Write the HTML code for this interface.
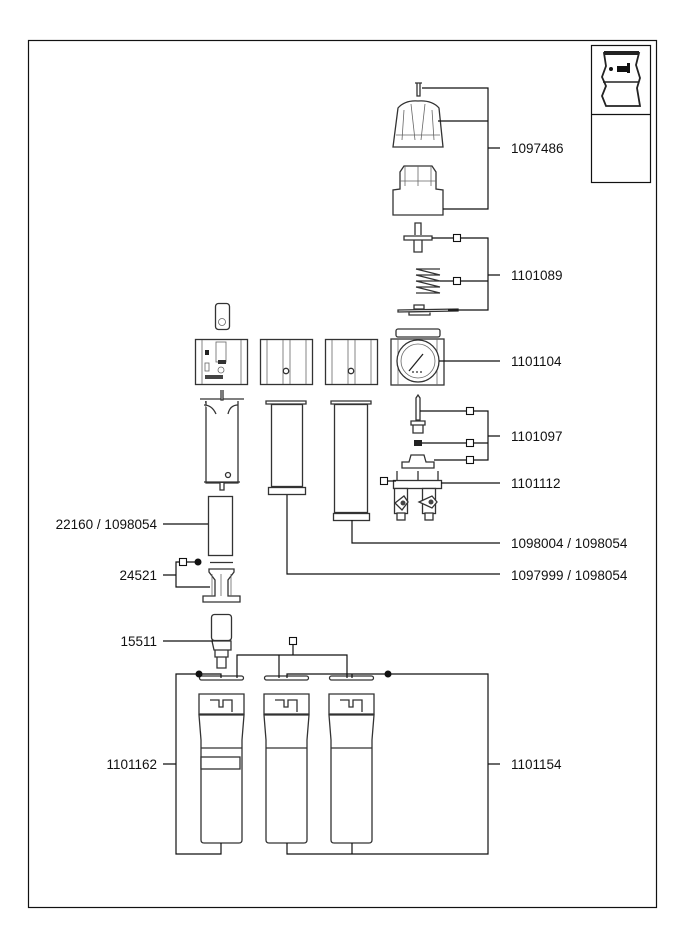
<!DOCTYPE html>
<html><head><meta charset="utf-8"><style>
html,body{margin:0;padding:0;background:#fff;}
svg{display:block;}
text{font-family:"Liberation Sans",sans-serif;font-size:13.5px;fill:#111;}
.p{fill:#fff;stroke:#333;stroke-width:1.3;}
.l{fill:none;stroke:#111;stroke-width:1.2;}
.t{fill:none;stroke:#666;stroke-width:0.8;}
.b{fill:#fff;stroke:#111;stroke-width:1.1;}
</style></head><body>
<svg width="680" height="935" viewBox="0 0 680 935" xmlns="http://www.w3.org/2000/svg">
<rect x="28.5" y="40.5" width="628" height="867" fill="none" stroke="#111" stroke-width="1.2"/>
<!-- legend -->
<rect x="591.5" y="45.5" width="59" height="137" fill="none" stroke="#111" stroke-width="1.2"/>
<line x1="591" y1="114.5" x2="651" y2="114.5" stroke="#111" stroke-width="1.2"/>
<path d="M604 53 L639 53 L636 65 L640 78 L637 88 L640 106 L606 106 L602 96 L606 86 L602 77 L606 66 Z" fill="#fff" stroke="#222" stroke-width="1.8"/>
<rect x="604" y="51" width="35" height="4" fill="#222"/>
<line x1="603" y1="82" x2="639" y2="82" stroke="#222" stroke-width="1.5"/>
<circle cx="611" cy="69" r="2" fill="#111"/>
<rect x="617" y="66" width="11" height="6" fill="#111"/><rect x="627" y="63" width="3" height="10" fill="#111"/>

<!-- top: screw, knob, nut -->
<path d="M415 83 H422 M417 83 V96 H420 V83" class="p"/>
<path d="M398 108 Q405 100 418 101 Q432 100 439 108 L443 147 L393 147 Z" class="p"/>
<path d="M411 104 L415 140 M425 104 L421 140 M404 110 L402 140 M432 110 L434 140 M396 135 H440" class="t"/>
<path d="M404 166 L432 166 L436 172 L436 189 L443 190 L443 215 L393 215 L393 190 L400 189 L400 172 Z" class="p"/>
<path d="M405 166 V186 M418 166 V186 M431 166 V186 M400 181 H436" class="t"/>
<!-- stem -->
<path d="M415 235 V223 H421 V235 M404 236 H432 V240 H404 Z M414 240 V252 H422 V240" class="p"/>
<!-- spring -->
<path d="M416 269 H440 M416 275 H440 M416 281 H440 M416 287 H440 M416 293 H440 M416 269 L440 275 M416 275 L440 281 M416 281 L440 287 M416 287 L440 293" class="p"/>
<!-- disc -->
<path d="M398 310 L458 309 L458 311 L398 312 Z M414 305 H424 V309 H414 Z M409 312 H430 V315 H409 Z" class="p"/>
<!-- gauge -->
<rect x="396" y="329" width="44" height="8" rx="2" class="p"/>
<rect x="391" y="339" width="53" height="46" class="p"/>
<line x1="398" y1="339" x2="398" y2="385" class="t"/><line x1="437" y1="339" x2="437" y2="385" class="t"/>
<circle cx="418" cy="361" r="21" class="p"/><circle cx="418" cy="361" r="17" class="t"/>
<line x1="409" y1="371" x2="423" y2="354" stroke="#222" stroke-width="1.3"/>
<circle cx="413" cy="372" r="0.9" fill="#222"/><circle cx="417" cy="372" r="0.9" fill="#222"/><circle cx="421" cy="372" r="0.9" fill="#222"/>

<!-- heads -->
<rect x="215.5" y="303.5" width="14" height="26" rx="3" class="p"/><circle cx="222" cy="322" r="3.5" class="t"/>
<rect x="195.5" y="339.5" width="52" height="45" class="p"/>
<path d="M202 340 V384 M241 340 V384" class="t"/>
<rect x="216" y="342" width="10" height="20" class="t"/><rect x="218" y="360" width="8" height="4" fill="#333"/>
<rect x="205" y="350" width="4" height="5" fill="#222"/><circle cx="221" cy="370" r="3" class="t"/>
<rect x="205" y="375" width="18" height="4" fill="#444"/><rect x="205" y="363" width="4" height="8" class="t"/>
<rect x="260.5" y="339.5" width="52" height="45" class="p"/>
<path d="M267 340 V384 M306 340 V384 M283 340 V384 M290 340 V384" class="t"/><circle cx="286" cy="371" r="2.7" class="p"/>
<rect x="325.5" y="339.5" width="52" height="45" class="p"/>
<path d="M332 340 V384 M371 340 V384 M348 340 V384 M355 340 V384" class="t"/><circle cx="351" cy="371" r="2.7" class="p"/>

<!-- housings -->
<path d="M200 399 H244 M205 402 H238" class="p"/>
<path d="M206 401 V483 H238 V401" class="p"/>
<path d="M204 482 H240 M220 483 V490 H224 V483 M221 390 V400 H223 V390" class="p"/>
<path d="M204 405 Q212 405 216 414 M238 405 Q230 405 228 414" class="p" stroke-width="2"/>
<circle cx="228" cy="475" r="2.5" class="p"/>
<path d="M266 401 H306 V404 H266 Z" class="p"/>
<rect x="271.5" y="404.5" width="31" height="82" class="p"/>
<rect x="268.5" y="487.5" width="37" height="7" class="p"/>
<path d="M331 401 H371 V404 H331 Z" class="p"/>
<rect x="334.5" y="404.5" width="33" height="108" class="p"/>
<rect x="333.5" y="513.5" width="36" height="7" class="p"/>
<!-- filter 22160 -->
<rect x="208.5" y="496.5" width="24" height="59" class="p"/>
<!-- 24521 -->
<line x1="210" y1="562.5" x2="233" y2="562.5" stroke="#333" stroke-width="1.2"/>
<path d="M209 569 H234 V572 L228 580 V596 H240 V602 H203 V596 H215 V580 L209 572 Z" class="p"/>
<path d="M212 574 V596 M231 574 V596 M221 574 V596" class="t"/>
<!-- 15511 -->
<rect x="211.5" y="614.5" width="20" height="26" rx="3" class="p"/>
<path d="M212 641 H231 V650 H214 Z M215 650 H228 V657 H215 Z M217 657 H226 V668 H217 Z" class="p"/>

<!-- valve 1101097 -->
<path d="M416 398 L418 395 L420 398 V420 H416 Z" class="p"/>
<path d="M411 421 H425 V425 H411 Z M413 425 H423 V433 H413 Z" class="p"/>
<rect x="414" y="440" width="8" height="6" fill="#222"/>
<path d="M411 455 H424 L426 462 H434 V468 H402 V462 H409 Z" class="p"/>
<!-- valve 1101112 -->
<path d="M397 471 V480 M418 471 V480 M438 471 V480" class="p"/>
<rect x="393.5" y="480.5" width="48" height="8" class="p"/>
<rect x="394.5" y="488.5" width="13" height="25" class="p"/><rect x="422.5" y="488.5" width="13" height="25" class="p"/>
<rect x="397" y="513" width="8" height="7" class="p"/><rect x="425" y="513" width="8" height="7" class="p"/>
<path d="M395 503 L404 496 L408 502 L402 510 Z" class="p"/><path d="M419 502 L432 496 L437 502 L432 508 Z" class="p"/>
<circle cx="403" cy="503" r="2.5" fill="#444"/><circle cx="431" cy="502" r="2.5" fill="#444"/>

<!-- lower cartridges -->
<g>
<rect x="199.5" y="676" width="44" height="4" rx="2" class="p"/>
<path d="M199 694 H244 V714 H199 Z M210 700 H219 V707 H223 V700 H232 V712" class="p"/>
<path d="M199 715 H244 L242 740 V840 Q242 843 239 843 H204 Q201 843 201 840 V740 Z M201 748 H242" class="p"/>
<rect x="201" y="757" width="39" height="12" class="p"/>
</g>
<g transform="translate(65,0)">
<rect x="199.5" y="676" width="44" height="4" rx="2" class="p"/>
<path d="M199 694 H244 V714 H199 Z M210 700 H219 V707 H223 V700 H232 V712" class="p"/>
<path d="M199 715 H244 L242 740 V840 Q242 843 239 843 H204 Q201 843 201 840 V740 Z M201 748 H242" class="p"/>
</g>
<g transform="translate(130,0)">
<rect x="199.5" y="676" width="44" height="4" rx="2" class="p"/>
<path d="M199 694 H244 V714 H199 Z M210 700 H219 V707 H223 V700 H232 V712" class="p"/>
<path d="M199 715 H244 L242 740 V840 Q242 843 239 843 H204 Q201 843 201 840 V740 Z M201 748 H242" class="p"/>
</g>

<!-- leader lines -->
<path class="l" d="M422 88 H488 V209 H443 M438 121 H488 M488 148 H500"/>
<text x="511" y="153">1097486</text>
<path class="l" d="M432 238 H488 V310 H448 M440 281 H488 M488 275 H500"/>
<rect x="453.5" y="234.5" width="7" height="7" class="b"/><rect x="453.5" y="277.5" width="7" height="7" class="b"/>
<text x="511" y="280">1101089</text>
<path class="l" d="M439 361 H500"/>
<text x="511" y="366">1101104</text>
<path class="l" d="M420 411 H488 V460 H434 M422 443 H488 M488 436 H500"/>
<rect x="466.5" y="407.5" width="7" height="7" class="b"/><rect x="466.5" y="439.5" width="7" height="7" class="b"/><rect x="466.5" y="456.5" width="7" height="7" class="b"/>
<text x="511" y="441">1101097</text>
<path class="l" d="M387 481 H396 M441 483 H500"/>
<rect x="380.5" y="477.5" width="7" height="7" class="b"/>
<text x="511" y="488">1101112</text>
<path class="l" d="M352 520 V543 H500"/>
<text x="511" y="548">1098004 / 1098054</text>
<path class="l" d="M287 495 V574 H500"/>
<text x="511" y="580">1097999 / 1098054</text>
<path class="l" d="M163 524 H208"/>
<text x="157" y="529" text-anchor="end">22160 / 1098054</text>
<path class="l" d="M163 575 H176 M183 562 H176 V587 H210 M186 562 H198"/>
<rect x="179.5" y="558.5" width="7" height="7" class="b"/>
<circle cx="198" cy="562" r="3.5" fill="#111"/>
<text x="157" y="580" text-anchor="end">24521</text>
<path class="l" d="M163 641 H213"/>
<text x="157" y="646" text-anchor="end">15511</text>
<path class="l" d="M293 645 V655 M237 678 V655 H347 V678 M279 655 V678"/>
<rect x="289.5" y="637.5" width="7" height="7" class="b"/>
<path class="l" d="M221 678 V674 H176 V854 H221 V843 M163 764 H176"/>
<circle cx="199" cy="674" r="3.5" fill="#111"/>
<text x="157" y="769" text-anchor="end">1101162</text>
<path class="l" d="M287 678 V674 H488 V854 H287 V843 M352 674 V678 M352 843 V854 M488 764 H500"/>
<circle cx="388" cy="674" r="3.5" fill="#111"/>
<text x="511" y="769">1101154</text>
</svg>
</body></html>
